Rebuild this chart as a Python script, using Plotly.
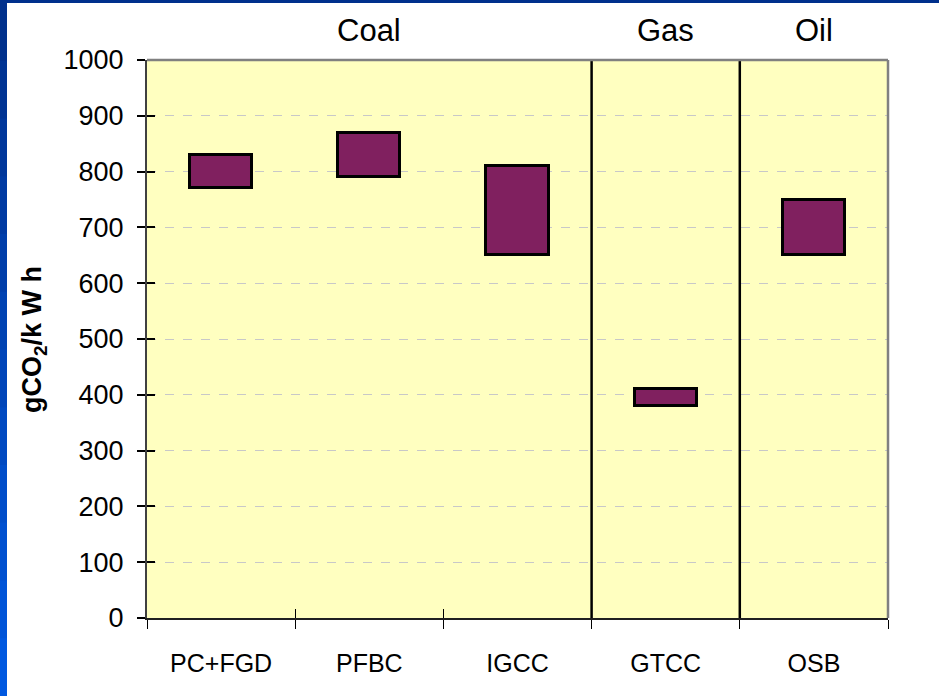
import plotly.graph_objects as go

# Specific CO2 emissions ranges by power plant technology
technologies = ["PC+FGD", "PFBC", "IGCC", "GTCC", "OSB"]
emission_low = [770, 790, 650, 380, 650]
emission_high = [830, 870, 810, 410, 750]

fuel_groups = ["Coal", "Gas", "Oil"]
fuel_group_span = [(0, 2), (3, 3), (4, 4)]   # first/last technology index per fuel
fuel_dividers = [2.5, 3.5]

y_ticks = list(range(0, 1001, 100))

W, H = 939, 696
L, R, T, B = 147, 51, 60, 78
PW, PH = W - L - R, H - T - B


def px_x(px):
    return (px - L) / PW


def px_y(py):
    return (H - B - py) / PH


FONT = "Arial, Liberation Sans, sans-serif"

fig = go.Figure()
fig.add_trace(go.Bar(
    x=technologies,
    y=[h - l for l, h in zip(emission_low, emission_high)],
    base=emission_low,
    width=0.42,
    marker=dict(color="#80205F", line=dict(color="black", width=3)),
    hoverinfo="skip",
))
# invisible companion trace carrying the inner half of the crossing tick marks
fig.add_trace(go.Scatter(
    x=technologies, y=emission_low, mode="markers",
    marker=dict(opacity=0), xaxis="x2", yaxis="y2", hoverinfo="skip",
))

shapes = []
# fuel separators
for xv in fuel_dividers:
    shapes.append(dict(type="line", xref="x", yref="paper", x0=xv, x1=xv,
                       y0=0, y1=1, line=dict(color="black", width=2.5), layer="above"))
# top and right frame of the plot area
shapes.append(dict(type="line", xref="paper", yref="paper", x0=0, x1=1, y0=1, y1=1,
                   line=dict(color="#808080", width=2.5)))
shapes.append(dict(type="line", xref="paper", yref="paper", x0=1, x1=1, y0=0, y1=1,
                   line=dict(color="#808080", width=2.5)))

# slide frame: navy strip at top, blue strip down the left edge
shapes.append(dict(type="rect", xref="paper", yref="paper",
                   x0=px_x(0), x1=px_x(W), y0=px_y(3), y1=px_y(0),
                   fillcolor="#00308C", line=dict(width=0), layer="below"))
n_seg = 12
for i in range(n_seg):
    t = i / (n_seg - 1)
    g = int(0x30 + t * (0x58 - 0x30))
    b = int(0x8C + t * (0xE0 - 0x8C))
    y_top = 3 + i * (H - 3) / n_seg
    y_bot = 3 + (i + 1) * (H - 3) / n_seg + 1
    shapes.append(dict(type="rect", xref="paper", yref="paper",
                       x0=px_x(0), x1=px_x(7), y0=px_y(y_bot), y1=px_y(y_top),
                       fillcolor=f"rgb(0,{g},{b})", line=dict(width=0), layer="below"))

annotations = []
for name, (a, b) in zip(fuel_groups, fuel_group_span):
    annotations.append(dict(text=name, xref="x", yref="paper", x=(a + b) / 2,
                            y=px_y(31), yanchor="middle", xanchor="center",
                            showarrow=False, font=dict(family=FONT, size=31, color="black")))
annotations.append(dict(text="<b>gCO<sub>2</sub>/k W h</b>", xref="paper", yref="paper",
                        x=px_x(34), y=px_y(340), textangle=-90, xanchor="center", yanchor="middle",
                        showarrow=False, font=dict(family=FONT, size=27, color="black")))

fig.update_layout(
    width=W, height=H,
    margin=dict(l=L, r=R, t=T, b=B, pad=0),
    paper_bgcolor="white",
    plot_bgcolor="#FFFFC0",
    showlegend=False,
    shapes=shapes,
    annotations=annotations,
    bargap=0,
)

x_common = dict(type="category", range=[-0.5, 4.5], tickson="boundaries",
                tickwidth=1, tickcolor="black", showgrid=False)
y_common = dict(range=[0, 1000], tickvals=y_ticks, tickwidth=1.5, tickcolor="black",
                zeroline=False)

fig.update_layout(
    xaxis=dict(
        **x_common,
        ticks="outside", ticklen=9,
        showline=True, linecolor="#202020", linewidth=2,
        tickfont=dict(family=FONT, size=25, color="black"),
        ticklabelstandoff=22,
    ),
    yaxis=dict(
        **y_common,
        ticks="outside", ticklen=8,
        showline=True, linecolor="#404040", linewidth=2,
        showgrid=True, gridcolor="#C8C8C8", griddash="dash", gridwidth=1,
        tickfont=dict(family=FONT, size=27, color="black"),
        ticklabelstandoff=8,
    ),
    xaxis2=dict(**x_common, overlaying="x", anchor="y2", side="bottom",
                ticks="inside", ticklen=9, showticklabels=False, showline=False),
    yaxis2=dict(**y_common, overlaying="y", anchor="x2", side="left",
                ticks="inside", ticklen=8, showticklabels=False, showline=False,
                showgrid=False),
)

fig.write_html("out.html")
